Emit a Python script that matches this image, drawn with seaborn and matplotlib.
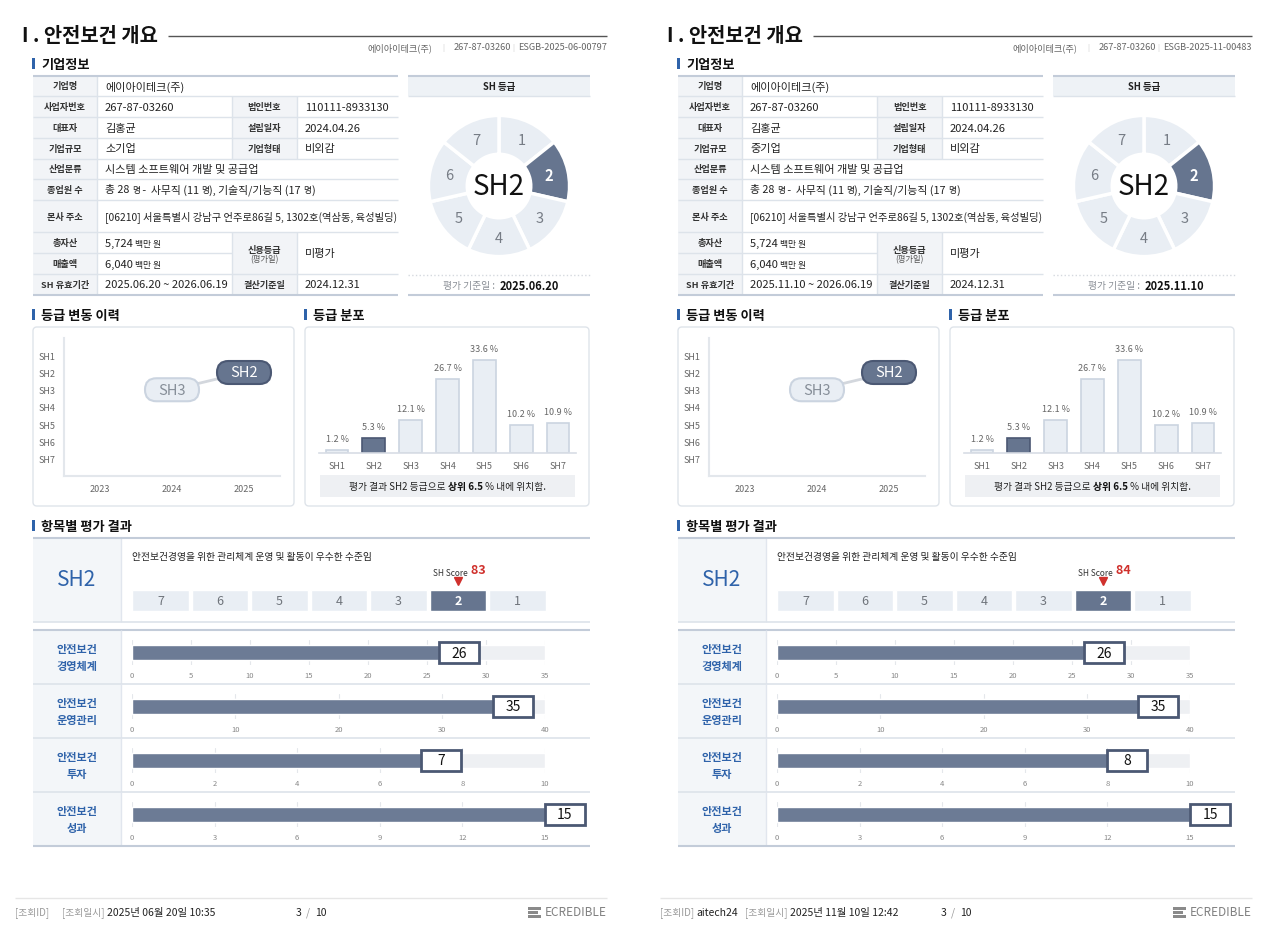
import numpy as np
import pandas as pd
import matplotlib
matplotlib.use('Agg')
import matplotlib.pyplot as plt
import seaborn as sns
from matplotlib.patches import Rectangle, FancyBboxPatch

# ---------------- data ----------------
PAGE_X = [0, 645]
COMPANY = '에이아이테크(주)'
BIZ_NO = '267-87-03260'
DOC_NO = ['ESGB-2025-06-00797', 'ESGB-2025-11-00483']
COMPANY_SIZE = ['소기업', '중기업']
VALID_PERIOD = ['2025.06.20 ~ 2026.06.19', '2025.11.10 ~ 2026.06.19']
EVAL_DATE = ['2025.06.20', '2025.11.10']
QUERY_ID = ['', 'aitech24']
QUERY_TIME = ['2025년 06월 20일 10:35', '2025년 11월 10일 12:42']
SH_SCORE = [83, 84]
CURRENT_GRADE = 2

DONUT_LABELS = ['1', '2', '3', '4', '5', '6', '7']

GRADES = ['SH1', 'SH2', 'SH3', 'SH4', 'SH5', 'SH6', 'SH7']
DIST_PCT = [1.2, 5.3, 12.1, 26.7, 33.6, 10.2, 10.9]
TOP_PCT = 6.5

HIST_YEARS = [2023, 2024, 2025]
HIST_X = [2024, 2025]
HIST_GRADE = [3, 2]

SCALE_LABELS = ['7', '6', '5', '4', '3', '2', '1']

SCORE_ITEMS = ['안전보건\n경영체계', '안전보건\n운영관리', '안전보건\n투자', '안전보건\n성과']
SCORE_MAX = [35, 40, 10, 15]
SCORE_STEP = [5, 10, 2, 3]
SCORES = [[26, 35, 7, 15], [26, 35, 8, 15]]

GRADE_DESC = '안전보건경영을 위한 관리체계 운영 및 활동이 우수한 수준임'

# ---------------- style ----------------
DARK = '#66758f'
DARK_EDGE = '#4b5873'
LIGHT = '#e9eef4'
LIGHT_EDGE = '#cbd4e0'
BAR = '#6c7b95'
BGBAR = '#eef0f3'
BLUE = '#2f63aa'
LABEL_BG = '#f2f4f7'
LINE = '#dde3ea'
HEAD_LINE = '#c3ccd9'

sns.set_theme(style='white')
plt.rcParams['font.family'] = ['Noto Sans CJK KR', 'DejaVu Sans']

W, H = 1280, 945
fig = plt.figure(figsize=(12.8, 9.45), dpi=100)
fig.patch.set_facecolor('white')
base = fig.add_axes([0, 0, 1, 1])
base.set_xlim(0, W)
base.set_ylim(H, 0)
base.set_autoscale_on(False)
base.axis('off')
RENDERER = fig.canvas.get_renderer()


def axes_px(x0, y0, x1, y1):
    ax = fig.add_axes([x0 / W, 1 - y1 / H, (x1 - x0) / W, (y1 - y0) / H])
    ax.patch.set_visible(False)
    return ax


def T(x, y, s, size=8, color='#222', weight='normal', ha='left', va='center', **kw):
    return base.text(x, y, s, fontsize=size, color=color, fontweight=weight,
                     ha=ha, va=va, **kw)


def chain(x, y, parts, center=False):
    """Run of text pieces on a common baseline y; parts = (text, size, weight, color)."""
    arts = []
    for s, size, weight, color in parts:
        if not arts:
            t = base.text(x, y, s, fontsize=size, fontweight=weight, color=color,
                          ha='left', va='baseline')
        else:
            t = base.annotate(s, xy=(1, y), xycoords=(arts[-1], 'data'), ha='left',
                              va='baseline', fontsize=size, fontweight=weight, color=color)
        arts.append(t)
    if center:
        b0 = arts[0].get_window_extent(RENDERER)
        b1 = arts[-1].get_window_extent(RENDERER)
        arts[0].set_x(x - (b1.x1 - b0.x0) / 2)
    return arts


def hline(x0, x1, y, color=LINE, lw=1, ls='-'):
    base.plot([x0, x1], [y, y], color=color, lw=lw, ls=ls, solid_capstyle='butt')


def vline(x, y0, y1, color=LINE, lw=1):
    base.plot([x, x], [y0, y1], color=color, lw=lw, solid_capstyle='butt')


def rect(x0, y0, x1, y1, fc, ec='none', lw=0, z=0):
    base.add_patch(Rectangle((x0, y0), x1 - x0, y1 - y0, fc=fc, ec=ec, lw=lw, zorder=z))


def section(L, x, y, s):
    rect(L + x - 9, y - 6, L + x - 6, y + 5, BLUE)
    T(L + x, y, s, 9.5, '#111', 'bold')


def draw_page(p):
    L = PAGE_X[p]
    # ---- header ----
    T(L + 22, 36, 'I . 안전보건 개요', 14.3, '#111', 'bold')
    hline(L + 168, L + 607, 37, '#555', 1)
    T(L + 607, 48, DOC_NO[p], 6.6, '#666', ha='right')
    T(L + 513, 48, '|', 5.5, '#ccc', ha='center')
    T(L + 454, 48, BIZ_NO, 6.6, '#666', ha='left')
    T(L + 443, 48, '|', 5.5, '#ccc', ha='center')
    T(L + 432, 48, COMPANY, 6.6, '#666', ha='right')

    # ---- company info table ----
    section(L, 41, 65, '기업정보')
    ys = [76.7, 97.3, 118.3, 139, 159.5, 180, 201, 233.3, 254.3, 275, 296]
    x0, xa, xb, xc, x1 = L + 33, L + 97, L + 232, L + 297, L + 398
    rows = [
        ('기업명', COMPANY, None, None),
        ('사업자번호', BIZ_NO, '법인번호', '110111-8933130'),
        ('대표자', '김홍균', '설립일자', '2024.04.26'),
        ('기업규모', COMPANY_SIZE[p], '기업형태', '비외감'),
        ('산업분류', '시스템 소프트웨어 개발 및 공급업', None, None),
        ('종업원 수', None, None, None),
        ('본사 주소', '[06210] 서울특별시 강남구 언주로86길 5, 1302호(역삼동, 육성빌딩)', None, None),
        ('총자산', None, 'M', None),
        ('매출액', None, 'M', None),
        ('SH 유효기간', VALID_PERIOD[p], '결산기준일', '2024.12.31'),
    ]
    for i, (l1, v1, l2, v2) in enumerate(rows):
        ya, yb = ys[i], ys[i + 1]
        yc = (ya + yb) / 2
        rect(x0, ya, xa, yb, LABEL_BG)
        T((x0 + xa) / 2, yc, l1, 6.6, '#333', 'bold', ha='center')
        if v1 is not None:
            size = 7.4 if l1 == '본사 주소' else 8
            T(xa + 8, yc, v1, size, '#222')
        if l2 is not None and l2 != 'M':
            rect(xb, ya, xc, yb, LABEL_BG)
            T((xb + xc) / 2, yc, l2, 6.6, '#333', 'bold', ha='center')
            T(xc + 8, yc, v2, 8, '#222')
            vline(xb, ya, yb)
            vline(xc, ya, yb)
        vline(xa, ya, yb)
    # mixed-size runs
    yb5 = (ys[5] + ys[6]) / 2 + 3
    big, small, c = 7.8, 6.3, '#222'
    chain(xa + 8, yb5, [('총 28 ', big, 'normal', c), ('명', small, 'normal', c),
                        (' -  사무직 (11 ', big, 'normal', c), ('명', small, 'normal', c),
                        ('), 기술직/기능직 (17 ', big, 'normal', c), ('명', small, 'normal', c),
                        (')', big, 'normal', c)])
    chain(xa + 8, (ys[7] + ys[8]) / 2 + 3, [('5,724 ', 8, 'normal', c), ('백만 원', 6.3, 'normal', c)])
    chain(xa + 8, (ys[8] + ys[9]) / 2 + 3, [('6,040 ', 8, 'normal', c), ('백만 원', 6.3, 'normal', c)])
    # merged credit rating cell
    rect(xb, ys[7], xc, ys[9], LABEL_BG)
    vline(xb, ys[7], ys[9])
    vline(xc, ys[7], ys[9])
    T((xb + xc) / 2, 250, '신용등급', 6.6, '#333', 'bold', ha='center')
    T((xb + xc) / 2, 260, '(평가일)', 6, '#555', ha='center')
    T(xc + 8, 254.5, '미평가', 8, '#222')
    for i, yy in enumerate(ys):
        if i == 0 or i == len(ys) - 1:
            hline(x0, x1, yy, HEAD_LINE, 1.5)
        elif i == 8:
            hline(x0, xb, yy, LINE, 1)
        else:
            hline(x0, x1, yy, LINE, 1)

    # ---- SH grade donut ----
    rect(L + 408, 76.7, L + 590, 97.3, '#eef2f6')
    hline(L + 408, L + 590, 76.7, HEAD_LINE, 1.5)
    hline(L + 408, L + 590, 97.3, LINE, 1)
    T(L + 499, 87, 'SH 등급', 6.8, '#222', 'bold', ha='center')
    dax = axes_px(L + 499 - 72, 187 - 72, L + 499 + 72, 187 + 72)
    cols = [DARK if int(s) == CURRENT_GRADE else LIGHT for s in DONUT_LABELS]
    wedges, texts = dax.pie([1] * len(DONUT_LABELS), labels=DONUT_LABELS, colors=cols,
                            startangle=90, counterclock=False, radius=1.0,
                            labeldistance=0.73,
                            wedgeprops=dict(width=0.55, edgecolor='white', linewidth=2.5),
                            textprops=dict(fontsize=10.5, color='#767c85', ha='center', va='center'))
    for t, s in zip(texts, DONUT_LABELS):
        if int(s) == CURRENT_GRADE:
            t.set_color('white')
            t.set_fontweight('bold')
    dax.text(0, 0, f'SH{CURRENT_GRADE}', fontsize=20, color='#111', ha='center', va='center')
    dax.set_xlim(-1.02, 1.02)
    dax.set_ylim(-1.02, 1.02)
    dax.set_aspect('equal')
    dax.axis('off')
    hline(L + 408, L + 590, 276, '#d5d9df', 1, ':')
    T(L + 495, 286, '평가 기준일 :', 7, '#8a8f96', ha='right')
    T(L + 500, 286, EVAL_DATE[p], 8, '#111', 'bold')
    hline(L + 408, L + 590, 296, HEAD_LINE, 1.5)

    # ---- grade history ----
    section(L, 41, 316, '등급 변동 이력')
    base.add_patch(FancyBboxPatch((L + 33, 328), 261, 179,
                                  boxstyle='round,pad=0,rounding_size=4',
                                  fc='white', ec='#dfe4ea', lw=1, zorder=0))
    hx0, hy0, hx1, hy1 = L + 64, 339, L + 280, 477
    hax = axes_px(hx0, hy0, hx1, hy1)
    sns.lineplot(x=HIST_X, y=HIST_GRADE, ax=hax, color='#d3d7dd', lw=2)
    hax.set_xlim(2022.5, 2025.5)
    hax.set_ylim(8, 0)
    hax.set_xticks(HIST_YEARS)
    hax.set_xticklabels([str(y) for y in HIST_YEARS], fontsize=6.5, color='#666')
    hax.set_yticks(range(1, 8))
    hax.set_yticklabels(GRADES, fontsize=6.5, color='#666')
    hax.tick_params(axis='both', length=0)
    hax.tick_params(axis='x', pad=6)
    hax.tick_params(axis='y', pad=6)
    for sp in ['top', 'right']:
        hax.spines[sp].set_visible(False)
    for sp in ['left', 'bottom']:
        hax.spines[sp].set_color('#e3e7ec')
        hax.spines[sp].set_linewidth(1.5)
    px_x = (hx1 - hx0) / 3.0
    px_y = (hy1 - hy0) / 8.0
    pw, ph = 54 / px_x, 23 / px_y
    for yr, g in zip(HIST_X, HIST_GRADE):
        cur = g == CURRENT_GRADE
        hax.add_patch(FancyBboxPatch((yr - pw / 2, g - ph / 2), pw, ph,
                                     boxstyle=f'round,pad=0,rounding_size={11.4 / px_x}',
                                     mutation_aspect=px_x / px_y,
                                     fc=DARK if cur else LIGHT,
                                     ec=DARK_EDGE if cur else LIGHT_EDGE, lw=1.5,
                                     zorder=4, clip_on=False))
        hax.text(yr, g, f'SH{g}', fontsize=10.5, color='white' if cur else '#868e98',
                 ha='center', va='center', zorder=5)
    hax.set_xlabel('')
    hax.set_ylabel('')

    # ---- grade distribution ----
    section(L, 313, 316, '등급 분포')
    base.add_patch(FancyBboxPatch((L + 305, 328), 284, 179,
                                  boxstyle='round,pad=0,rounding_size=4',
                                  fc='white', ec='#dfe4ea', lw=1, zorder=0))
    bax = axes_px(L + 318.6, 330, L + 576.4, 454)
    ddf = pd.DataFrame({'grade': GRADES, 'pct': DIST_PCT})
    pal = {g: (DARK if g == f'SH{CURRENT_GRADE}' else LIGHT) for g in GRADES}
    sns.barplot(data=ddf, x='grade', y='pct', hue='grade', palette=pal, width=0.62,
                saturation=1, legend=False, errorbar=None, ax=bax)
    for patch, g in zip(bax.patches, GRADES):
        patch.set_edgecolor(DARK_EDGE if g == f'SH{CURRENT_GRADE}' else LIGHT_EDGE)
        patch.set_linewidth(1.2)
    for i, v in enumerate(DIST_PCT):
        bax.annotate(f'{v} %', (i, v), xytext=(0, 5), textcoords='offset points',
                     ha='center', va='bottom', fontsize=6.5, color='#666')
    bax.set_xlim(-0.5, 6.5)
    bax.set_ylim(0, 44.8)
    bax.set_yticks([])
    bax.set_xlabel('')
    bax.set_ylabel('')
    bax.tick_params(axis='x', length=0, pad=6, labelsize=6.5, labelcolor='#666')
    for sp in ['top', 'right', 'left']:
        bax.spines[sp].set_visible(False)
    bax.spines['bottom'].set_color('#d8dde5')
    bax.spines['bottom'].set_linewidth(1.2)
    rect(L + 320, 476, L + 575, 498, '#eef0f3')
    chain(L + 447.5, 490, [(f'평가 결과 SH{CURRENT_GRADE} 등급으로 ', 7, 'normal', '#222'),
                           (f'상위 {TOP_PCT}', 7, 'bold', '#111'),
                           (' % 내에 위치함.', 7, 'normal', '#222')], center=True)

    # ---- item results ----
    section(L, 41, 527, '항목별 평가 결과')
    rect(L + 33, 539, L + 121, 623, '#f3f6f9')
    vline(L + 121, 539, 623, '#e1e6ee')
    hline(L + 33, L + 590, 539, HEAD_LINE, 1.5)
    hline(L + 33, L + 590, 623, LINE, 1.2)
    T(L + 77, 580, f'SH{CURRENT_GRADE}', 15, BLUE, ha='center')
    T(L + 132, 557, GRADE_DESC, 7.0, '#222')

    sax = axes_px(L + 130.75, 591, L + 547.25, 612)
    sdf = pd.DataFrame({'g': SCALE_LABELS, 'v': [1] * len(SCALE_LABELS)})
    spal = {g: (DARK if int(g) == CURRENT_GRADE else LIGHT) for g in SCALE_LABELS}
    sns.barplot(data=sdf, x='g', y='v', hue='g', palette=spal, width=0.955, saturation=1,
                legend=False, errorbar=None, ax=sax)
    for i, g in enumerate(SCALE_LABELS):
        cur = int(g) == CURRENT_GRADE
        sax.text(i, 0.5, g, ha='center', va='center', fontsize=9,
                 color='white' if cur else '#6f747b', fontweight='bold' if cur else 'normal')
    sax.set_xlim(-0.5, len(SCALE_LABELS) - 0.5)
    sax.set_ylim(0, 1)
    sax.axis('off')
    ci = SCALE_LABELS.index(str(CURRENT_GRADE))
    # red pointer triangle (marker) just above the current grade box
    sax.plot([ci], [1 + 9 / 21], marker='v', ms=5.5, color='#d0312d', clip_on=False,
             linestyle='none')
    ts = sax.annotate('SH Score', (ci, 1), xytext=(-18, 9.5), textcoords='offset points',
                      ha='left', va='bottom', fontsize=6, color='#333')
    base.annotate(f' {SH_SCORE[p]}', xy=(1, 0.12), xycoords=ts, ha='left', va='bottom',
                  fontsize=9, color='#d0312d', fontweight='bold')

    hline(L + 33, L + 590, 631, HEAD_LINE, 1.5)
    for k, item in enumerate(SCORE_ITEMS):
        top = 631 + k * 54
        bot = top + 54
        rect(L + 33, top, L + 121, bot, '#f3f6f9')
        vline(L + 121, top, bot, '#e1e6ee')
        T(L + 77, top + 27, item, 8, BLUE, 'bold', ha='center', linespacing=1.45)
        if k < len(SCORE_ITEMS) - 1:
            hline(L + 33, L + 590, bot, LINE, 1.2)
        vmax, step, val = SCORE_MAX[k], SCORE_STEP[k], SCORES[p][k]
        rax = axes_px(L + 132, top + 10, L + 545, top + 35)
        sns.barplot(x=[vmax], y=['a'], orient='h', color=BGBAR, width=0.6, saturation=1,
                    errorbar=None, ax=rax)
        sns.barplot(x=[val], y=['a'], orient='h', color=BAR, width=0.6, saturation=1,
                    errorbar=None, ax=rax)
        rax.set_xlim(0, vmax)
        rax.set_ylim(0.5, -0.5)
        ticks = np.arange(0, vmax + step, step)
        rax.set_xticks(ticks)
        rax.set_xticklabels([str(v) for v in ticks])
        rax.tick_params(axis='x', length=0, pad=4, labelsize=5.5, labelcolor='#888')
        rax.set_yticks([])
        rax.set_xlabel('')
        rax.set_ylabel('')
        rax.grid(axis='x', color='#e4e7eb', lw=0.8)
        rax.set_axisbelow(True)
        for sp in rax.spines.values():
            sp.set_visible(False)
        bw = 40 / 413 * vmax
        rax.add_patch(Rectangle((val, -0.42), bw, 0.84, fc='white', ec=DARK_EDGE, lw=2,
                                clip_on=False, zorder=6))
        rax.text(val + bw / 2, 0, str(val), ha='center', va='center', fontsize=10,
                 color='#111', zorder=7, clip_on=False)
    hline(L + 33, L + 590, 847, HEAD_LINE, 1.5)

    # ---- footer ----
    hline(L + 15, L + 607, 899, '#e6e6e6', 1)
    T(L + 15, 913, '[조회ID]', 7, '#9a9a9a')
    if QUERY_ID[p]:
        T(L + 51, 913, QUERY_ID[p], 7.5, '#222')
        xq = L + 100
    else:
        xq = L + 62
    T(xq, 913, '[조회일시]', 7, '#9a9a9a')
    T(xq + 45, 913, QUERY_TIME[p], 7.5, '#222')
    T(L + 299, 913, '3', 7.5, '#222', ha='center')
    T(L + 308, 913, '/', 7.5, '#999', ha='center')
    T(L + 321, 913, '10', 7.5, '#222', ha='center')
    for w_, yy in [(13, 908), (10, 912), (13, 916)]:
        rect(L + 528, yy, L + 528 + w_, yy + 2.6, '#8a8a8a')
    T(L + 607, 913, 'ECREDIBLE', 8.5, '#808080', ha='right')


for p in range(2):
    draw_page(p)

base.set_xlim(0, W)
base.set_ylim(H, 0)
fig.savefig('out.png', dpi=100, facecolor='white')
